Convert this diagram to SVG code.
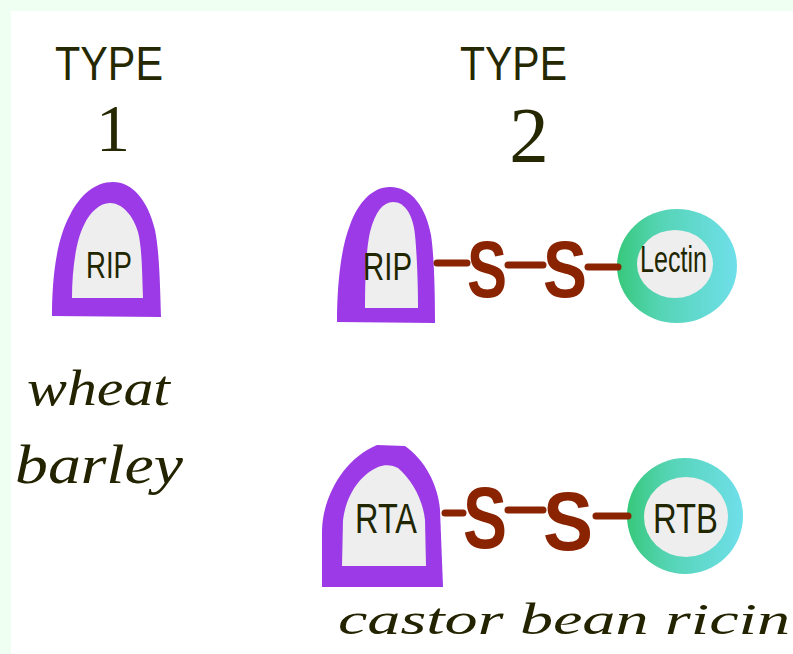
<svg xmlns="http://www.w3.org/2000/svg" width="793" height="654" viewBox="0 0 793 654">
<defs>
<style>
.bg{fill:#effff1}
.rip-outer{fill:#9b3ae6}
.inner{fill:#eeeeee}
.lbl{font-family:"Liberation Sans",Arial,sans-serif;fill:#1f2600}
.hand{font-family:"Liberation Serif","Times New Roman",serif;font-style:italic;fill:#232300}
.head{font-family:"Liberation Sans",Arial,sans-serif;fill:#252800}
.num{font-family:"Liberation Serif","Times New Roman",serif;fill:#252800}
.ess{font-family:"Liberation Sans",Arial,sans-serif;font-weight:bold;fill:#8a2300}
.dash{stroke:#8a2300;stroke-width:7;stroke-linecap:round}
</style>
<linearGradient id="teal" x1="0" y1="0" x2="1" y2="0">
<stop offset="0" stop-color="#36c87a"/>
<stop offset="0.35" stop-color="#55d4b4"/>
<stop offset="1" stop-color="#6fdfea"/>
</linearGradient>
</defs>
<rect class="bg" x="0" y="0" width="793" height="654"/>
<rect x="11" y="11" width="782" height="643" fill="#ffffff"/>

<g id="heading-type1">
<text class="head" x="55" y="80" font-size="49" textLength="108" lengthAdjust="spacingAndGlyphs">TYPE</text>
<text class="num" x="113" y="151" font-size="68" text-anchor="middle">1</text>
</g>
<g id="heading-type2">
<text class="head" x="460" y="80" font-size="49" textLength="107" lengthAdjust="spacingAndGlyphs">TYPE</text>
<text class="num" x="529" y="161" font-size="79" text-anchor="middle">2</text>
</g>

<g id="type1-rip">
<path class="rip-outer" d="M52,316 C52,280 56,240 70,215 C80,195 95,182 113,182 C132,182 148,200 155,230 C159,250 160,280 161,317 Z"/>
<path class="inner" d="M72,298 C72,270 76,240 84,225 C90,212 100,203 110,203 C122,203 133,215 138,232 C142,248 142,270 143,298 Z"/>
<text class="lbl" x="86" y="278" font-size="37" textLength="46" lengthAdjust="spacingAndGlyphs">RIP</text>
</g>

<g id="type2-rip">
<path class="rip-outer" d="M337,322 C337,290 340,250 350,225 C358,203 372,187 390,187 C412,187 426,208 431,235 C434,255 435,290 435,323 Z"/>
<path class="inner" d="M365,308 C365,280 366,250 370,232 C375,212 383,202 393,202 C405,202 413,215 415,235 C417,255 418,285 418,308 Z"/>
<text class="lbl" x="363" y="280" font-size="38" textLength="49" lengthAdjust="spacingAndGlyphs">RIP</text>
</g>

<g id="lectin">
<ellipse cx="677" cy="266" rx="60" ry="57" fill="url(#teal)"/>
<ellipse class="inner" cx="675" cy="264" rx="38" ry="34"/>
<text class="lbl" x="640" y="272" font-size="36" textLength="67" lengthAdjust="spacingAndGlyphs">Lectin</text>
</g>

<g id="rta">
<path class="rip-outer" d="M322,587 L322,530 C323,495 345,458 377,445 L405,446 C425,460 438,485 440,510 L443,587 Z"/>
<path class="inner" d="M342,566 L343,520 C346,495 360,475 378,467 C385,464 393,465 398,468 C412,480 423,500 425,520 L426,566 Z"/>
<text class="lbl" x="355" y="533" font-size="42" textLength="62" lengthAdjust="spacingAndGlyphs">RTA</text>
</g>

<g id="rtb">
<circle cx="685" cy="516" r="58" fill="url(#teal)"/>
<ellipse class="inner" cx="686" cy="517" rx="42" ry="40"/>
<text class="lbl" x="653" y="533" font-size="42" textLength="65" lengthAdjust="spacingAndGlyphs">RTB</text>
</g>

<g id="connectors">
<line class="dash" x1="437" y1="263" x2="467" y2="263"/>
<line class="dash" x1="508" y1="265" x2="543" y2="265"/>
<line class="dash" x1="588" y1="267" x2="618" y2="267"/>
<line class="dash" x1="445" y1="513" x2="463" y2="513"/>
<line class="dash" x1="508" y1="510" x2="543" y2="510"/>
<line class="dash" x1="596" y1="516" x2="628" y2="516"/>
</g>

<g id="sulfur-row1">
<text class="ess" x="467" y="297" font-size="80" textLength="40" lengthAdjust="spacingAndGlyphs">S</text>
<text class="ess" x="543" y="297" font-size="80" textLength="44" lengthAdjust="spacingAndGlyphs">S</text>
</g>
<g id="sulfur-row2">
<text class="ess" x="463" y="548" font-size="88" textLength="44" lengthAdjust="spacingAndGlyphs">S</text>
<text class="ess" x="543" y="550" font-size="84" textLength="50" lengthAdjust="spacingAndGlyphs">S</text>
</g>

<g id="captions">
<text class="hand" x="27" y="405" font-size="50" textLength="143" lengthAdjust="spacingAndGlyphs">wheat</text>
<text class="hand" x="15" y="483" font-size="54" textLength="168" lengthAdjust="spacingAndGlyphs">barley</text>
<text class="hand" x="338" y="634" font-size="44" textLength="452" lengthAdjust="spacingAndGlyphs">castor bean ricin</text>
</g>
</svg>
